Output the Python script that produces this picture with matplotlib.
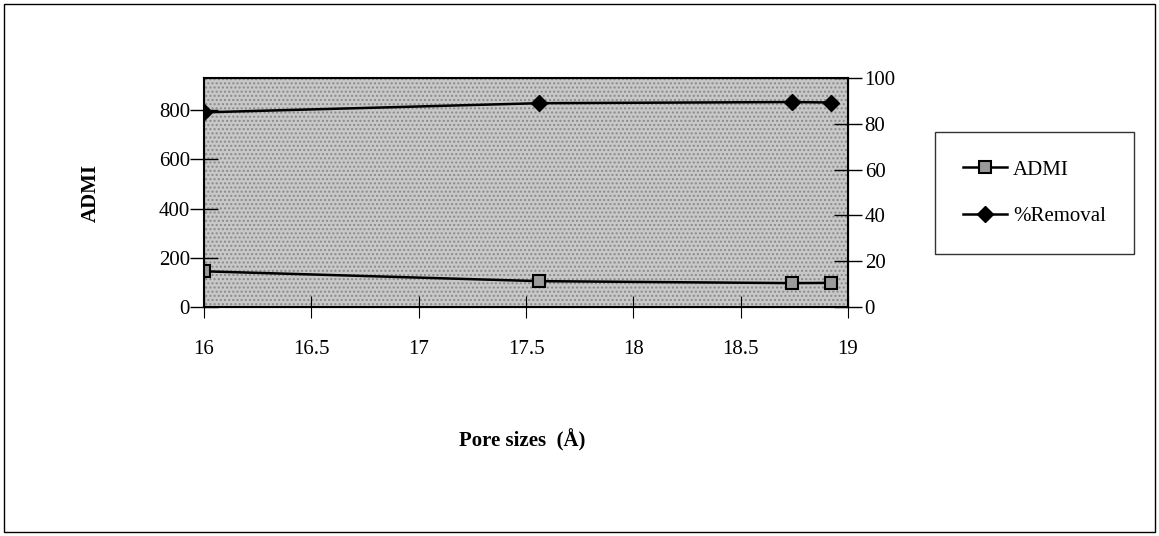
import matplotlib
matplotlib.use("Agg")
import matplotlib.pyplot as plt
from matplotlib.patches import Rectangle

pore_sizes = [16.0, 17.56, 18.74, 18.92]
admi = [145, 105, 97, 98]
removal = [85, 89, 89.5, 89.3]

plt.rcParams['font.family'] = ['Liberation Serif', 'DejaVu Serif']

fig = plt.figure(figsize=(11.59, 5.36), dpi=100)
ax = fig.add_axes([204/1159, 1-307/536, (848-204)/1159, (307-78)/536])
ax.set_facecolor('#c8c8c8')
ax.patch.set_hatch('....')
ax.patch.set_edgecolor('#8a8a8a')
ax.patch.set_linewidth(0)

ax.plot(pore_sizes, admi, color='black', lw=1.8, marker='s', ms=9,
        mfc='#9a9a9a', mec='black', mew=1.5, label='ADMI', zorder=3)
ax.set_xlim(16, 19)
ax.set_ylim(0, 930)
ax.set_yticks([0, 200, 400, 600, 800])
ax.set_xticks([16, 16.5, 17, 17.5, 18, 18.5, 19])
ax.set_xticklabels(['16', '16.5', '17', '17.5', '18', '18.5', '19'])
ax.tick_params(axis='y', direction='inout', length=20, width=1, labelsize=15, pad=0)
ax.tick_params(axis='x', direction='inout', length=16, width=0.8, labelsize=15, pad=16)
for s in ax.spines.values():
    s.set_linewidth(1.5)
ax.set_ylabel('ADMI', fontsize=15, fontweight='bold', labelpad=42)

ax2 = ax.twinx()
ax2.plot(pore_sizes, removal, color='black', lw=1.8, marker='D', ms=8,
         mfc='black', mec='black', label='%Removal', zorder=3)
ax2.set_ylim(0, 100)
ax2.set_yticks([0, 20, 40, 60, 80, 100])
ax2.tick_params(axis='y', direction='inout', length=20, width=1, labelsize=15, pad=2)

fig.text(522/1159, 1-440/536, 'Pore sizes  (Å)', fontsize=15, fontweight='bold',
         ha='center', va='center')

h1, l1 = ax.get_legend_handles_labels()
h2, l2 = ax2.get_legend_handles_labels()
leg = fig.legend(h1 + h2, l1 + l2, loc='upper left',
                 bbox_to_anchor=(935/1159, 1-132/536), fontsize=15,
                 frameon=True, fancybox=False, edgecolor='black',
                 handlelength=2.1, labelspacing=1.3, borderpad=1.35,
                 handletextpad=0.3, borderaxespad=0)
leg.get_frame().set_linewidth(1.0)

fig.patches.append(Rectangle((4/1159, 4/536), 1151/1159, 528/536,
                             transform=fig.transFigure, fill=False,
                             edgecolor='black', lw=1.0))

fig.savefig('out.png', dpi=100)
